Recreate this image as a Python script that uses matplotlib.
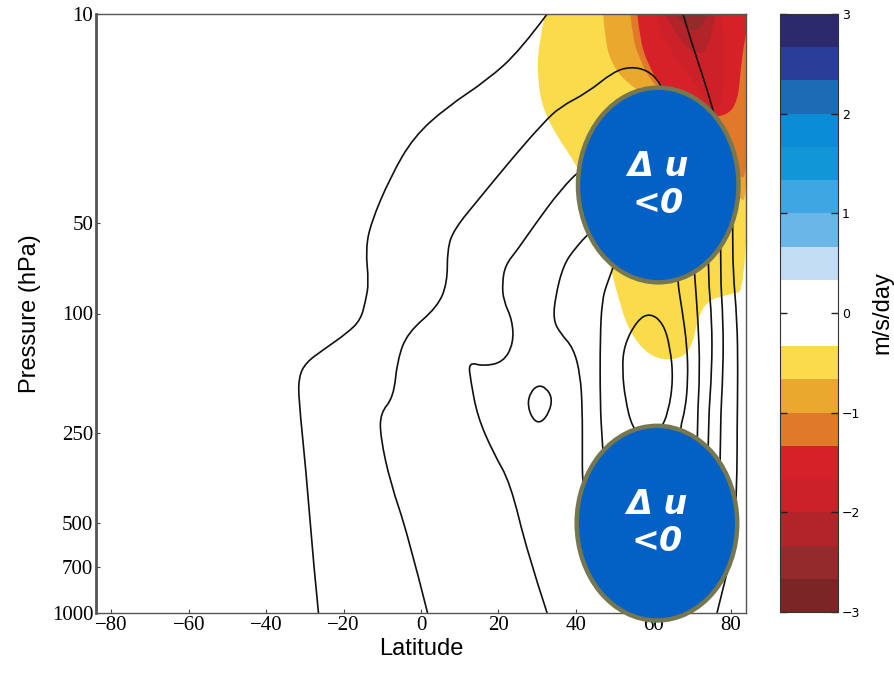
import numpy as np
import matplotlib
matplotlib.use('Agg')
import matplotlib.pyplot as plt
from matplotlib.colors import ListedColormap, BoundaryNorm
from matplotlib.cm import ScalarMappable
from matplotlib.patches import Ellipse, PathPatch
from matplotlib.path import Path


# colour levels of the shading (m/s/day), bottom to top
levels = np.linspace(-3, 3, 19)
level_colors = ['#7a2526', '#932a2b', '#b2242a', '#cc2129', '#d62128', '#e07a28',
                '#eaa82e', '#f9db4b', '#ffffff', '#ffffff', '#c3ddf4', '#6ab6e7',
                '#3ea6e2', '#1196d8', '#0a8dd6', '#1e6bb5', '#2a3d98', '#2c2a6d']

# shaded areas (outline in latitude / pressure), value below the given level
shade_yellow_lat = [32.1, 30.3, 30.1, 31.6, 35.2, 40.6, 46.3, 48.9, 50.7, 53.3, 57.4,
                    61.8, 67.7, 70.3, 71.4, 73.9, 79.1, 85, 85]
shade_yellow_p = [10, 12.7, 16.6, 20.9, 25.7, 32.4, 48.7, 69.9, 85.5, 111, 132.4,
                  143.1, 141, 125.8, 105.2, 90.5, 86.7, 83.4, 10]
shade_oryel_lat = [47.1, 47.6, 49.7, 53.3, 57.9, 72.1, 81.2, 85, 85]
shade_oryel_p = [10, 12.5, 15.0, 17.0, 18.6, 28.4, 40.2, 43.5, 10]
shade_orange_lat = [54.1, 54.8, 56.6, 59.2, 63.1, 72.1, 81.2, 85, 85]
shade_orange_p = [10, 12.2, 14.2, 16.6, 18.6, 24.4, 34.5, 35.8, 10]
shade_red_lat = [55.9, 56.6, 58.7, 62.3, 72.1, 79.0, 81.9, 82.6, 83.7, 85]
shade_red_p = [10, 12.2, 14.8, 17.7, 22.0, 22.0, 19.5, 15.4, 12.0, 10]
shade_red2_lat = [60.5, 63.1, 69.5, 75.2, 77.8, 78.6, 77.8]
shade_red2_p = [10, 12.7, 16.0, 20.9, 20.1, 14.2, 10]
shade_red3_lat = [63.1, 65.7, 70.8, 74.7, 76.0]
shade_red3_p = [10, 11.75, 13.7, 13.2, 10]
shade_red4_lat = [65.7, 68.3, 72.1, 74.2]
shade_red4_p = [10, 11.1, 11.5, 10]

# zonal wind contours (latitude / pressure)
line_a_lat = [-26.5, -27.7, -29.8, -31.6, -31.6, -29.8, -25.2, -19.0, -15.6, -14.3,
              -13.5, -14.3, -13.0, -7.9, -1.9, 6.8, 17.2, 25.7, 32.6]
line_a_p = [1000, 702, 326, 194, 163, 146, 132, 116, 105, 90.5,
            79, 61.3, 50, 35, 25.7, 20.4, 16.6, 13.2, 10]
line_b_lat = [1.7, -3.5, -7.9, -10.5, -10.5, -7.1, -6.1, -3.5, 4.3, 6.8, 6.8, 8.4,
              15.4, 23.9, 31.6, 36.0, 43.0, 49.7, 54.1, 58.5, 61.8, 63.9]
line_b_p = [1000, 541, 368, 258, 215, 190.5, 143, 116, 95, 79, 61.3, 52.6,
            40.8, 30, 23.1, 20.4, 18.3, 15.6, 15.0, 15.4, 16.9, 19.5]
line_c_lat = [32.6, 27.5, 23.1, 18.7, 14.6, 12.8, 12.3, 16.1, 21.3, 23.9, 23.6, 21.3,
              21.0, 21.8, 24.9, 29.0, 36.0, 41.9, 45.5]
line_c_p = [1000, 630, 368, 292, 221, 166.5, 145.3, 150, 145.3, 125.8, 105.2, 90.5,
            79.0, 68.9, 61.3, 51.4, 38.7, 32.4, 31.2]
line_d_lat = [46.3, 43.7, 39.9, 36.8, 34.7, 34.2, 36.0, 39.4, 41.2, 41.7, 41.7, 41.7, 42.7]
line_d_p = [50.6, 53.4, 60.4, 68.9, 88.1, 105.2, 116.3, 130.4, 160.4, 209.5, 286.6, 364, 489]
line_e_lat = [50.2, 48.1, 46.8, 46.3, 46.3, 46.8, 47.6]
line_e_p = [67.3, 79.0, 90.5, 119.9, 198.5, 265, 364]
oval_f_lat = [59.2, 62.6, 64.4, 65.2, 63.9, 61.8, 57.9, 54.6, 52.8, 52.0, 52.5, 55.9, 59.2]
oval_f_p = [99.6, 107.7, 129.4, 166.5, 214.6, 245.6, 265, 241, 194, 154.4, 127.3, 105.2, 99.6]
line_g1_lat = [66.2, 66.2, 67.5, 68.8, 69.0, 68.3, 67.0, 66.5]
line_g1_p = [66.2, 77.1, 97.3, 129.4, 166.5, 209.5, 239.4, 286.6]
line_g2_lat = [70.3, 70.8, 71.6, 72.1, 71.4, 71.4]
line_g2_p = [61.3, 77.1, 105.2, 154.4, 226.5, 296.6]
line_g3_lat = [74.2, 74.2, 75.2, 75.2, 74.2, 74.2]
line_g3_p = [56.8, 75.5, 105.2, 154.4, 232.3, 320.6]
line_g4_lat = [77.5, 77.3, 78.1, 78.1, 77.3, 77.3]
line_g4_p = [50.6, 73.1, 105.2, 154.4, 239.4, 364]
line_g5_lat = [80.4, 80.6, 80.6, 81.7, 81.9, 81.7, 81.7, 81.2, 79.9, 78.3, 76.5]
line_g5_p = [40.2, 52.6, 71.4, 105.2, 154.4, 245.6, 336, 489, 665, 806, 1000]
line_h_lat = [67.7, 70.3, 72.9, 75.5, 76.8]
line_h_p = [10, 12.9, 16.2, 20.9, 24.4]
oval_o_lat = [30.3, 32.4, 33.9, 33.2, 31.0, 28.9, 27.5, 28.3, 30.3]
oval_o_p = [173.4, 177.5, 191.6, 213.3, 232.3, 226.5, 202.1, 182.8, 173.4]

x_ticks = [-80, -60, -40, -20, 0, 20, 40, 60, 80]
p_ticks = [10, 50, 100, 250, 500, 700, 1000]
cb_ticks = [-3, -2, -1, 0, 1, 2, 3]
bubble_text = '\u0394 u\n<0'


def curve_path(lat, p):
    # quadratic bezier through the midpoints, the read points act as control points
    x = np.asarray(lat, float)
    y = np.log10(np.asarray(p, float))
    closed = x[0] == x[-1] and y[0] == y[-1]
    if closed:
        x, y = x[:-1], y[:-1]
        n = len(x)
        verts = [((x[-1] + x[0]) / 2, (y[-1] + y[0]) / 2)]
        codes = [Path.MOVETO]
        for i in range(n):
            j = (i + 1) % n
            verts += [(x[i], y[i]), ((x[i] + x[j]) / 2, (y[i] + y[j]) / 2)]
            codes += [Path.CURVE3, Path.CURVE3]
    else:
        n = len(x)
        verts = [(x[0], y[0])]
        codes = [Path.MOVETO]
        for i in range(1, n - 1):
            if i == n - 2:
                end = (x[-1], y[-1])
            else:
                end = ((x[i] + x[i + 1]) / 2, (y[i] + y[i + 1]) / 2)
            verts += [(x[i], y[i]), end]
            codes += [Path.CURVE3, Path.CURVE3]
        if n == 2:
            verts.append((x[1], y[1]))
            codes.append(Path.LINETO)
    verts = np.array(verts)
    verts[:, 1] = 10 ** verts[:, 1]
    return Path(verts, codes)


fig = plt.figure(figsize=(8.94, 6.75), dpi=100)
ax = fig.add_axes([96/894, 1 - 613/675, 650/894, 599/675])
cax = fig.add_axes([780/894, 1 - 612/675, 58/894, 598/675])

# shading, lowest level first
shades = [(shade_yellow_lat, shade_yellow_p, 7),
          (shade_oryel_lat, shade_oryel_p, 6),
          (shade_orange_lat, shade_orange_p, 5),
          (shade_red_lat, shade_red_p, 4),
          (shade_red2_lat, shade_red2_p, 3),
          (shade_red3_lat, shade_red3_p, 2),
          (shade_red4_lat, shade_red4_p, 1)]
for lat, p, k in shades:
    ax.add_patch(PathPatch(curve_path(lat, p), facecolor=level_colors[k], lw=0, zorder=1))

lines = [(line_a_lat, line_a_p), (line_b_lat, line_b_p), (line_c_lat, line_c_p),
         (line_d_lat, line_d_p), (line_e_lat, line_e_p), (oval_f_lat, oval_f_p),
         (line_g1_lat, line_g1_p), (line_g2_lat, line_g2_p), (line_g3_lat, line_g3_p),
         (line_g4_lat, line_g4_p), (line_g5_lat, line_g5_p), (line_h_lat, line_h_p),
         (oval_o_lat, oval_o_p)]
for lat, p in lines:
    ax.add_patch(PathPatch(curve_path(lat, p), fill=False, edgecolor='#111111',
                           lw=1.2, zorder=2))

ax.set_yscale('log')
ax.set_xlim(-84, 84)
ax.set_ylim(1000, 10)
ax.set_yticks(p_ticks)
ax.set_yticklabels([str(t) for t in p_ticks])
ax.yaxis.set_minor_locator(matplotlib.ticker.NullLocator())
ax.set_xticks(x_ticks)
ax.set_xticklabels([str(t).replace('-', '\u2212') for t in x_ticks])
ax.tick_params(direction='in', length=3, width=0.8, pad=2, color='#444444')
for lab in ax.get_xticklabels() + ax.get_yticklabels():
    lab.set_fontfamily('Liberation Serif')
    lab.set_fontsize(15)
for s in ax.spines.values():
    s.set_color('#555555')
    s.set_linewidth(1.0)
ax.spines['left'].set_linewidth(2.0)

ax.set_xlabel('Latitude', fontsize=17, family='Liberation Sans', labelpad=2)
ax.set_ylabel('Pressure (hPa)', fontsize=17, family='Liberation Sans', labelpad=8)

# the two "du < 0" bubbles
for cx, cy in [(0.865, 0.7145), (0.863, 0.150)]:
    e = Ellipse((cx, cy), 0.247, 0.325, transform=ax.transAxes, facecolor='#0360c4',
                edgecolor='#77774f', lw=3.2, zorder=5, clip_on=False)
    ax.add_patch(e)
    ax.text(cx, cy, bubble_text, transform=ax.transAxes, ha='center', va='center',
            color='white', fontsize=24, fontweight='bold', fontstyle='italic',
            family='DejaVu Sans', linespacing=1.15, zorder=6)

# colour bar
cmap = ListedColormap(level_colors)
norm = BoundaryNorm(levels, cmap.N)
cb = fig.colorbar(ScalarMappable(norm=norm, cmap=cmap), cax=cax, ticks=cb_ticks)
cb.outline.set_linewidth(0.8)
cb.outline.set_edgecolor('#333333')
cax.minorticks_off()
cax.tick_params(direction='in', length=5, width=1, left=True, right=True,
                labelsize=9, pad=3, color='#222222')
cax.set_yticklabels([str(t).replace('-', '\u2212') for t in cb_ticks])
cb.set_label('m/s/day', fontsize=17, family='Liberation Sans', labelpad=8)

fig.savefig('out.png', dpi=100)
